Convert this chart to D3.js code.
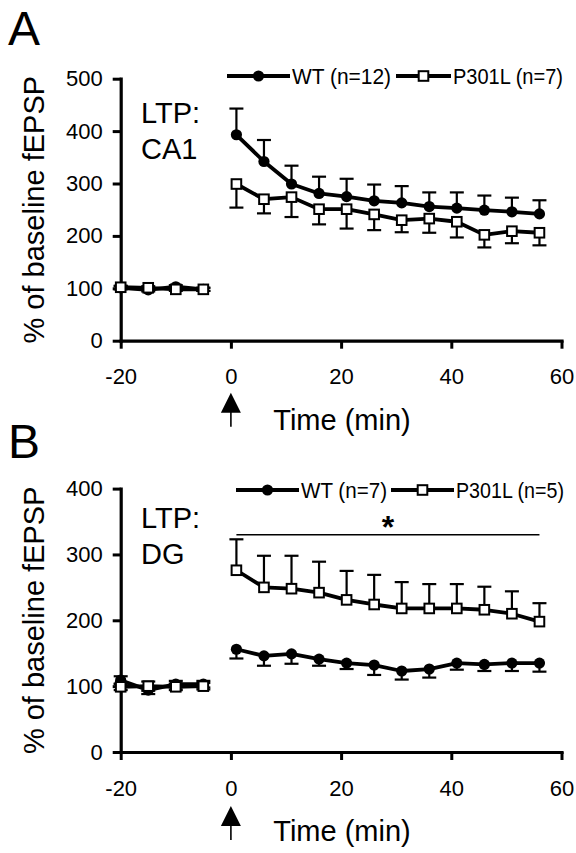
<!DOCTYPE html>
<html>
<head>
<meta charset="utf-8">
<script src="https://cdn.jsdelivr.net/npm/d3@7"></script>
<style>
  html, body { margin: 0; padding: 0; background: #fff; }
  svg { display: block; }
  text { font-family: "Liberation Sans", Arial, Helvetica, sans-serif; fill: #000; }
</style>
</head>
<body>
<svg id="chart" width="576" height="853"></svg>
<script>
// ---------- data ----------
const timeBase = [-20, -15, -10, -5];
const timePost = [1, 6, 11, 16, 21, 26, 31, 36, 41, 46, 51, 56];
const xTicks = [-20, 0, 20, 40, 60];

// Panel A: CA1
const caTicks = [0, 100, 200, 300, 400, 500];
const caWTBase = [101, 97, 103, 98];
const caWTBaseSem = [3, 3, 3, 3];
const caP301LBase = [102, 101, 98, 98];
const caP301LBaseSem = [3, 3, 3, 3];
const caWT = [393, 342, 299, 281, 275, 267, 263, 256, 253, 249, 246, 242];
const caWTSem = [50, 41, 35, 32, 34, 31, 32, 27, 30, 28, 27, 26];
const caP301L = [299, 270, 274, 251, 251, 241, 230, 233, 227, 202, 209, 206];
const caP301LSem = [45, 27, 38, 29, 37, 30, 23, 27, 30, 24, 23, 24];

// Panel B: DG
const dgTicks = [0, 100, 200, 300, 400];
const dgWTBase = [109, 94, 103, 103];
const dgWTBaseSem = [6, 6, 5, 5];
const dgP301LBase = [99, 100, 99, 100];
const dgP301LBaseSem = [5, 7, 5, 5];
const dgWT = [156, 146, 149, 141, 135, 132, 123, 126, 135, 133, 135, 135];
const dgWTSem = [14, 15, 15, 10, 9, 15, 13, 13, 10, 10, 12, 13];
const dgP301L = [276, 250, 248, 242, 231, 224, 218, 218, 218, 216, 210, 198];
const dgP301LSem = [47, 48, 50, 47, 44, 45, 40, 37, 37, 35, 34, 28];
const dgSigLevel = 330;

// ---------- drawing ----------
const svg = d3.select("#chart");
const FONT = '"Liberation Sans", Arial, Helvetica, sans-serif';

function zipSeries(t, v, s) { return t.map((d, i) => ({ t: d, v: v[i], s: s[i] })); }

function panel(cfg) {
  const g = svg.append("g");
  const x = d3.scaleLinear().domain([-20, 60]).range([120.7, 561.5]);
  const y = d3.scaleLinear().domain([0, cfg.yMax]).range([cfg.y0, cfg.yTop]);

  // panel letter
  g.append("text").attr("x", 8).attr("y", cfg.letterY).attr("font-size", 48).text(cfg.letter);

  // axes
  const ya = d3.axisLeft(y).tickValues(cfg.ticks).tickSize(8).tickSizeOuter(0).tickPadding(10)
    .tickFormat(d => String(d));
  const yg = g.append("g").attr("transform", `translate(${x(-20)},0)`).call(ya);
  const xa = d3.axisBottom(x).tickValues(xTicks).tickSize(8).tickSizeOuter(0).tickPadding(20)
    .tickFormat(d => String(d));
  const xg = g.append("g").attr("transform", `translate(0,${cfg.y0})`).call(xa);
  [yg, xg].forEach(a => {
    a.select(".domain").attr("stroke", "#000").attr("stroke-width", 3.2).attr("stroke-linecap", "square");
    a.selectAll(".tick line").attr("stroke", "#000").attr("stroke-width", 3);
    a.selectAll(".tick text").attr("font-size", 22).attr("font-family", FONT).attr("fill", "#000");
  });

  // axis titles
  g.append("text")
    .attr("transform", `translate(44,${(cfg.y0 + cfg.yTop) / 2}) rotate(-90)`)
    .attr("text-anchor", "middle").attr("font-size", 29)
    .text("% of baseline fEPSP");
  g.append("text").attr("x", 342).attr("y", cfg.y0 + 89).attr("text-anchor", "middle")
    .attr("font-size", 29).text("Time (min)");

  // stimulation arrow
  const ax = x(0), at = cfg.y0 + cfg.arrowOff;
  g.append("path").attr("d", `M${ax},${at} L${ax - 10},${at + 20} L${ax + 10},${at + 20} Z`).attr("fill", "#000");
  g.append("line").attr("x1", ax).attr("x2", ax).attr("y1", at + 19).attr("y2", at + 34)
    .attr("stroke", "#000").attr("stroke-width", 1.6);

  // region label
  g.append("text").attr("x", 141).attr("y", cfg.ltpY).attr("font-size", 29).text("LTP:");
  g.append("text").attr("x", 141).attr("y", cfg.ltpY + 36).attr("font-size", 29).text(cfg.region);

  // series
  const line = d3.line().x(d => x(d.t)).y(d => y(d.v));
  const series = cfg.series;

  // error bars
  series.forEach(sr => {
    const eb = g.append("g").attr("stroke", "#000").attr("stroke-width", 2.2);
    sr.base.forEach(d => {
      eb.append("line").attr("x1", x(d.t)).attr("x2", x(d.t)).attr("y1", y(d.v - d.s)).attr("y2", y(d.v + d.s));
      [d.v - d.s, d.v + d.s].forEach(v => eb.append("line").attr("x1", x(d.t) - 7).attr("x2", x(d.t) + 7)
        .attr("y1", y(v)).attr("y2", y(v)));
    });
    sr.post.forEach(d => {
      const end = d.v + sr.dir * d.s;
      eb.append("line").attr("x1", x(d.t)).attr("x2", x(d.t)).attr("y1", y(d.v)).attr("y2", y(end));
      eb.append("line").attr("x1", x(d.t) - 7).attr("x2", x(d.t) + 7).attr("y1", y(end)).attr("y2", y(end));
    });
  });
  // lines
  series.forEach(sr => {
    [sr.base, sr.post].forEach(data => g.append("path").datum(data).attr("d", line)
      .attr("fill", "none").attr("stroke", "#000").attr("stroke-width", 3.8).attr("stroke-linejoin", "round"));
  });
  // markers
  function marker(sel, type, cx, cy) {
    if (type === "dot") sel.append("circle").attr("cx", cx).attr("cy", cy).attr("r", 5.6).attr("fill", "#000");
    else sel.append("rect").attr("x", cx - 4.8).attr("y", cy - 4.8).attr("width", 9.6).attr("height", 9.6)
      .attr("fill", "#fff").attr("stroke", "#000").attr("stroke-width", 2);
  }
  series.forEach(sr => {
    sr.base.concat(sr.post).forEach(d => marker(g, sr.type, x(d.t), y(d.v)));
  });

  // legend
  const ly = cfg.legendY;
  cfg.legend.forEach(L => {
    g.append("line").attr("x1", L.x1).attr("x2", L.x2).attr("y1", ly).attr("y2", ly)
      .attr("stroke", "#000").attr("stroke-width", 3.8);
    marker(g, L.type, (L.x1 + L.x2) / 2, ly);
    g.append("text").attr("x", L.x2 + 2).attr("y", ly + 8).attr("font-size", 22)
      .attr("textLength", L.w).attr("lengthAdjust", "spacingAndGlyphs").text(L.label);
  });

  if (cfg.sig) {
    const sx1 = x(timePost[0]), sx2 = x(timePost[timePost.length - 1]), sy = y(cfg.sig);
    g.append("line").attr("x1", sx1).attr("x2", sx2).attr("y1", sy).attr("y2", sy)
      .attr("stroke", "#000").attr("stroke-width", 1.6);
    g.append("text").attr("x", (sx1 + sx2) / 2).attr("y", sy + 3.5).attr("text-anchor", "middle")
      .attr("font-size", 32).attr("font-weight", "bold").text("*");
  }
}

panel({
  letter: "A", letterY: 45, yMax: 500, y0: 340.7, yTop: 78.7, ticks: caTicks,
  arrowOff: 52, ltpY: 123, region: "CA1", legendY: 76,
  series: [
    { type: "dot", dir: 1, base: zipSeries(timeBase, caWTBase, caWTBaseSem), post: zipSeries(timePost, caWT, caWTSem) },
    { type: "sq", dir: -1, base: zipSeries(timeBase, caP301LBase, caP301LBaseSem), post: zipSeries(timePost, caP301L, caP301LSem) }
  ],
  legend: [
    { type: "dot", x1: 227, x2: 290, label: "WT (n=12)", w: 99 },
    { type: "sq", x1: 396, x2: 451, label: "P301L (n=7)", w: 110 }
  ]
});

panel({
  letter: "B", letterY: 458, yMax: 400, y0: 752, yTop: 488.6, ticks: dgTicks,
  arrowOff: 54, ltpY: 528, region: "DG", legendY: 490, sig: dgSigLevel,
  series: [
    { type: "dot", dir: -1, base: zipSeries(timeBase, dgWTBase, dgWTBaseSem), post: zipSeries(timePost, dgWT, dgWTSem) },
    { type: "sq", dir: 1, base: zipSeries(timeBase, dgP301LBase, dgP301LBaseSem), post: zipSeries(timePost, dgP301L, dgP301LSem) }
  ],
  legend: [
    { type: "dot", x1: 236, x2: 299, label: "WT (n=7)", w: 86 },
    { type: "sq", x1: 391, x2: 454, label: "P301L (n=5)", w: 108 }
  ]
});
</script>
</body>
</html>
